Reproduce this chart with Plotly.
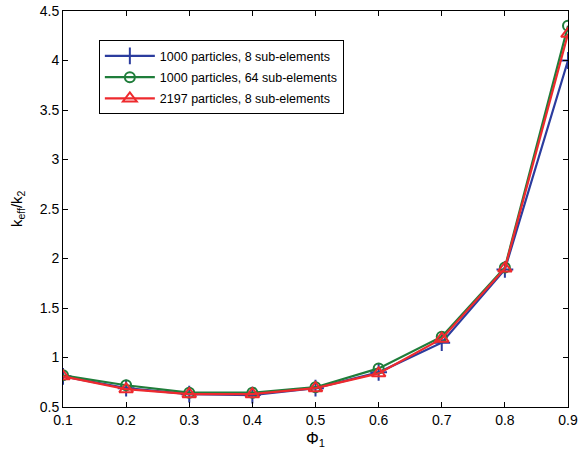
import plotly.graph_objects as go

# Volume fraction of inclusions
phi = [0.1, 0.2, 0.3, 0.4, 0.5, 0.6, 0.7, 0.8, 0.9]

# Effective conductivity ratio k_eff/k_2 for each discretisation
k_1000_8 = [0.81, 0.69, 0.63, 0.62, 0.69, 0.85, 1.15, 1.89, 4.00]
k_1000_64 = [0.82, 0.72, 0.645, 0.645, 0.70, 0.89, 1.21, 1.91, 4.35]
k_2197_8 = [0.81, 0.68, 0.63, 0.63, 0.69, 0.84, 1.19, 1.90, 4.27]

names = [
    "1000 particles, 8 sub-elements",
    "1000 particles, 64 sub-elements",
    "2197 particles, 8 sub-elements",
]

colors = ["#2b3c9e", "#1f7d3a", "#ee2a2e"]
symbols = ["cross-thin-open", "circle-open", "triangle-up-open"]
sizes = [12, 10, 12]

fig = go.Figure()
for i, (y, name, c, s, sz) in enumerate(zip([k_1000_8, k_1000_64, k_2197_8], names, colors, symbols, sizes)):
    fig.add_trace(go.Scatter(
        x=phi, y=y, name=name, mode="lines+markers", legendgroup=f"g{i}",
        line=dict(color=c, width=2.2),
        marker=dict(symbol=s, size=sz, color=c, line=dict(color=c, width=2)),
    ))

axis_common = dict(
    showline=True, linecolor="black", linewidth=1,
    mirror="ticks", ticks="inside", ticklen=5, tickcolor="black",
    showgrid=False, zeroline=False, automargin=False,
    tickfont=dict(family="Liberation Sans, Arial, sans-serif", size=14, color="black"),
)

fig.update_layout(
    width=579, height=454,
    margin=dict(l=63, r=11, t=11, b=47),
    plot_bgcolor="white", paper_bgcolor="white",
    font=dict(family="Liberation Sans, Arial, sans-serif", size=14, color="black"),
    xaxis=dict(range=[0.1, 0.9], tickvals=phi, ticktext=[f"{v:.1f}" for v in phi],
               **axis_common),
    yaxis=dict(range=[0.5, 4.5], dtick=0.5, tickformat="~g", **axis_common),
    legend=dict(x=0.071, y=0.926, xanchor="left", yanchor="top",
                bgcolor="white", bordercolor="black", borderwidth=1,
                font=dict(size=12.5), tracegroupgap=2, itemwidth=50),
    showlegend=True,
    annotations=[
        dict(text="Φ<sub>1</sub>", xref="paper", yref="paper", x=0.5, y=-0.083,
             xanchor="center", yanchor="middle", showarrow=False, font=dict(size=16)),
        dict(text="k<sub>eff</sub>/k<sub>2</sub>", xref="paper", yref="paper", x=-0.091, y=0.5,
             xanchor="center", yanchor="middle", textangle=-90, showarrow=False,
             font=dict(size=15)),
    ],
)

fig.write_html("out.html")
